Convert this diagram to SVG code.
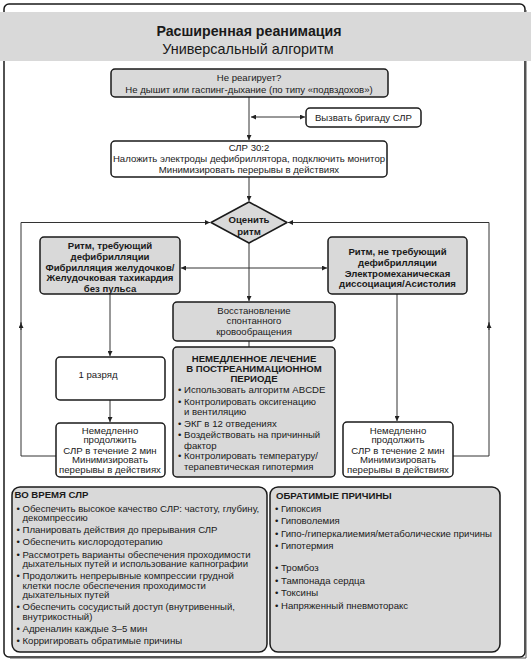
<svg xmlns="http://www.w3.org/2000/svg" width="531" height="661" viewBox="0 0 531 661">
<style>
text{font-family:"Liberation Sans",Arial,sans-serif;fill:#1a1a1a}
.t{font-size:9.6px}
.c{text-anchor:middle}
.b{font-weight:bold}
.p{font-size:9.6px}
.box{stroke:#1a1a1a;stroke-width:1.5}
.g{fill:#d9d9d9}
.w{fill:#ffffff}
.ln{fill:none;stroke:#333;stroke-width:1}
</style>
<defs>
<marker id="ar" viewBox="0 0 10 10" refX="10" refY="5" markerWidth="6" markerHeight="5" orient="auto" markerUnits="userSpaceOnUse">
<path d="M0,0 L10,5 L0,10 z" fill="#222"/>
</marker>
<marker id="as" viewBox="0 0 10 10" refX="0" refY="5" markerWidth="6" markerHeight="5" orient="auto" markerUnits="userSpaceOnUse">
<path d="M10,0 L0,5 L10,10 z" fill="#222"/>
</marker>
</defs>
<rect width="531" height="661" fill="#ffffff"/>
<g id="frame">
<rect x="4" y="4" width="521" height="653" rx="5" fill="#ffffff" stroke="#1a1a1a" stroke-width="1.5"/>
<path d="M526,10 V658 H10" fill="none" stroke="#555" stroke-width="1"/>
</g>
<g id="header">
<rect x="0" y="12" width="531" height="49" fill="#d9d9d9"/>
<text x="249" y="35.5" class="c b" style="font-size:14.2px">Расширенная реанимация</text>
<text x="248" y="54" class="c" style="font-size:14.4px">Универсальный алгоритм</text>
</g>
<g id="connectors">
<path class="ln" d="M249,97 V140" marker-end="url(#ar)"/>
<path class="ln" d="M251,117 H305" marker-start="url(#as)" marker-end="url(#ar)"/>
<path class="ln" d="M249,177 V201" marker-end="url(#ar)"/>
<path class="ln" d="M56,456 H21 V322"/>
<path class="ln" d="M21,330 V323" marker-end="url(#ar)"/>
<path class="ln" d="M21,324 V222.5 H210" marker-end="url(#ar)"/>
<path class="ln" d="M453,456 H489 V322"/>
<path class="ln" d="M489,330 V323" marker-end="url(#ar)"/>
<path class="ln" d="M489,324 V222.5 H288" marker-end="url(#ar)"/>
<path class="ln" d="M249,243 V301" marker-end="url(#ar)"/>
<path class="ln" d="M181,268 H327" marker-start="url(#as)" marker-end="url(#ar)"/>
<path class="ln" d="M249,341 V347"/>
<path class="ln" d="M110,294 V356" marker-end="url(#ar)"/>
<path class="ln" d="M110,400 V422" marker-end="url(#ar)"/>
<path class="ln" d="M397,294 V421" marker-end="url(#ar)"/>
</g>
<g id="unresponsive">
<rect class="box g" x="111" y="69" width="277" height="28" rx="4"/>
<text class="t c" x="249" y="81">Не реагирует?</text>
<text class="t c" x="249" y="93">Не дышит или гаспинг-дыхание (по типу «подвздохов»)</text>
</g>
<g id="call-team">
<rect class="box w" x="306" y="108" width="115" height="19" rx="4"/>
<text class="t c" x="363.5" y="121">Вызвать бригаду СЛР</text>
</g>
<g id="cpr">
<rect class="box w" x="111" y="141" width="276" height="36" rx="4"/>
<text class="t c" x="249" y="151">СЛР 30:2</text>
<text class="t c" x="249" y="162">Наложить электроды дефибриллятора, подключить монитор</text>
<text class="t c" x="249" y="173">Минимизировать перерывы в действиях</text>
</g>
<g id="assess">
<polygon class="box g" points="249,202 287,222.5 249,243 211,222.5" stroke-linejoin="round"/>
<text class="t c b" x="249" y="222.5">Оценить</text>
<text class="t c b" x="249" y="235">ритм</text>
</g>
<g id="shockable">
<rect class="box g" x="40" y="237" width="140" height="57" rx="4"/>
<text class="t c b" x="110" y="248.5">Ритм, требующий</text>
<text class="t c b" x="110" y="259.5">дефибрилляции</text>
<text class="t c b" x="110" y="270.5">Фибрилляция желудочков/</text>
<text class="t c b" x="110" y="281">Желудочковая тахикардия</text>
<text class="t c b" x="110" y="291.5">без пульса</text>
</g>
<g id="nonshockable">
<rect class="box g" x="328" y="237" width="139" height="57" rx="4"/>
<text class="t c b" x="397.5" y="254.5">Ритм, не требующий</text>
<text class="t c b" x="397.5" y="265.5">дефибрилляции</text>
<text class="t c b" x="397.5" y="276.5">Электромеханическая</text>
<text class="t c b" x="397.5" y="287">диссоциация/Асистолия</text>
</g>
<g id="rosc">
<rect class="box g" x="173" y="302" width="162" height="39" rx="4"/>
<text class="t c" x="254" y="313.5">Восстановление</text>
<text class="t c" x="254" y="324">спонтанного</text>
<text class="t c" x="254" y="334.5">кровообращения</text>
</g>
<g id="post-care">
<rect class="box g" x="173" y="347" width="162" height="130" rx="4"/>
<text class="t c b" x="254" y="361.5">НЕМЕДЛЕННОЕ ЛЕЧЕНИЕ</text>
<text class="t c b" x="254" y="371.5">В ПОСТРЕАНИМАЦИОННОМ</text>
<text class="t c b" x="254" y="381.5">ПЕРИОДЕ</text>
<text class="t" x="178" y="393">• Использовать алгоритм ABCDE</text>
<text class="t" x="178" y="404.5">• Контролировать оксигенацию</text>
<text class="t" x="184" y="414.5">и вентиляцию</text>
<text class="t" x="178" y="426.5">• ЭКГ в 12 отведениях</text>
<text class="t" x="178" y="438">• Воздействовать на причинный</text>
<text class="t" x="184" y="448.5">фактор</text>
<text class="t" x="178" y="459">• Контролировать температуру/</text>
<text class="t" x="184" y="469.5">терапевтическая гипотермия</text>
</g>
<g id="shock">
<rect class="box w" x="56" y="357" width="109" height="43" rx="4"/>
<text class="t c" x="98" y="378">1 разряд</text>
</g>
<g id="cpr-left">
<rect class="box w" x="56" y="423" width="109" height="54" rx="4"/>
<text class="t c" x="110" y="433.5">Немедленно</text>
<text class="t c" x="110" y="443">продолжить</text>
<text class="t c" x="110" y="453.5">СЛР в течение 2 мин</text>
<text class="t c" x="110" y="463">Минимизировать</text>
<text class="t c" x="110" y="472.5">перерывы в действиях</text>
</g>
<g id="cpr-right">
<rect class="box w" x="343" y="422" width="110" height="55" rx="4"/>
<text class="t c" x="398" y="433.5">Немедленно</text>
<text class="t c" x="398" y="443">продолжить</text>
<text class="t c" x="398" y="453.5">СЛР в течение 2 мин</text>
<text class="t c" x="398" y="463">Минимизировать</text>
<text class="t c" x="398" y="472.5">перерывы в действиях</text>
</g>
<g id="during-cpr">
<rect class="box g" x="12" y="487" width="255" height="165" rx="8"/>
<text class="t b" x="14.5" y="497.5">ВО ВРЕМЯ СЛР</text>
<text class="p" x="16.5" y="511.5">• Обеспечить высокое качество СЛР: частоту, глубину,</text>
<text class="p" x="22.5" y="521">декомпрессию</text>
<text class="p" x="16.5" y="533">• Планировать действия до прерывания СЛР</text>
<text class="p" x="16.5" y="545">• Обеспечить кислородотерапию</text>
<text class="p" x="16.5" y="557.5">• Рассмотреть варианты обеспечения проходимости</text>
<text class="p" x="22.5" y="567">дыхательных путей и использование капнографии</text>
<text class="p" x="16.5" y="579">• Продолжить непрерывные компрессии грудной</text>
<text class="p" x="22.5" y="588.5">клетки после обеспечения проходимости</text>
<text class="p" x="22.5" y="598">дыхательных путей</text>
<text class="p" x="16.5" y="610">• Обеспечить сосудистый доступ (внутривенный,</text>
<text class="p" x="22.5" y="619.5">внутрикостный)</text>
<text class="p" x="16.5" y="631.5">• Адреналин каждые 3–5 мин</text>
<text class="p" x="16.5" y="643.5">• Корригировать обратимые причины</text>
</g>
<g id="reversible">
<rect class="box g" x="270" y="487" width="230" height="165" rx="8"/>
<text class="t b" x="276" y="499">ОБРАТИМЫЕ ПРИЧИНЫ</text>
<text class="p" x="275" y="511.5">• Гипоксия</text>
<text class="p" x="275" y="524">• Гиповолемия</text>
<text class="p" x="275" y="536.5">• Гипо-/гиперкалиемия/метаболические причины</text>
<text class="p" x="275" y="549">• Гипотермия</text>
<text class="p" x="275" y="571">• Тромбоз</text>
<text class="p" x="275" y="583.5">• Тампонада сердца</text>
<text class="p" x="275" y="596">• Токсины</text>
<text class="p" x="275" y="609">• Напряженный пневмоторакс</text>
</g>
</svg>
